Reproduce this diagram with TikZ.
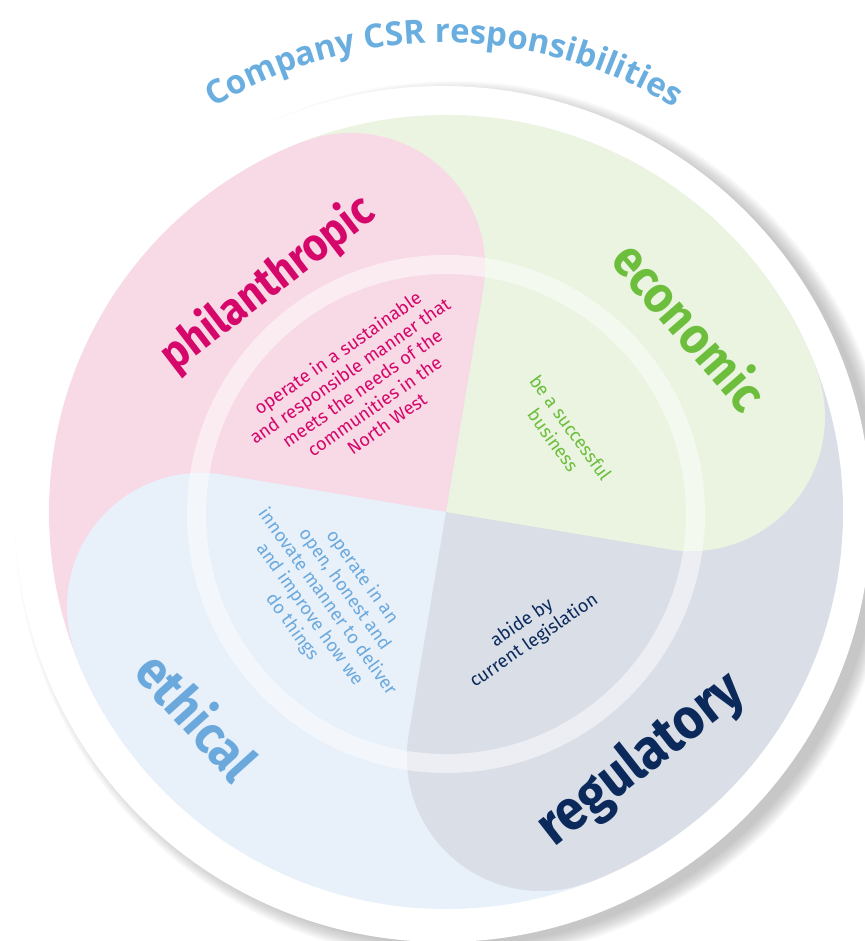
\documentclass[tikz,border=0pt]{standalone}
\usepackage{graphicx}
\usepackage{fontspec}
\setmainfont{Fira Sans}
\newfontfamily\titlefont{Open Sans}
\usetikzlibrary{decorations.text}
\definecolor{pinkfill}{HTML}{F8D9E6}
\definecolor{greenfill}{HTML}{EAF4E0}
\definecolor{regfill}{HTML}{D9DEE7}
\definecolor{ethfill}{HTML}{E8F0FA}
\definecolor{pinktext}{HTML}{D5076A}
\definecolor{greentext}{HTML}{6CBE3C}
\definecolor{regtext}{HTML}{0B2A5B}
\definecolor{ethtext}{HTML}{6BA9DD}
\definecolor{titleblue}{HTML}{6AAEE0}
\newcommand{\drawpetal}[2]{%
  \begin{scope}[rotate=#1]
    \fill[#2] (0,0) -- (226,0) arc[start angle=-90,end angle=30.7,radius=134]
      -- (30.7:470) arc[start angle=30.7,end angle=130,radius=470] -- cycle;
  \end{scope}}
\newcommand{\labeltext}[2]{\scalebox{1}[1.1]{\resizebox{#1}{!}{\bfseries #2}}}
\begin{document}
\begin{tikzpicture}[x=1pt,y=1pt,
  biglabel/.style={inner sep=0pt},
  innertext/.style={align=center,inner sep=0pt,font=\fontsize{18.2}{21.5}\selectfont}]
\useasboundingbox (-446,-429) rectangle (418,512);
% shadow
\foreach \k in {0,...,15} \fill[black,opacity=0.015] (9,-9) circle (440-\k);
% white disc
\fill[white] (-3,-2) circle (428);
% petals
\begin{scope}
  \clip (0,0) circle (397);
  \drawpetal{-9.5}{greenfill}
  \drawpetal{80.5}{pinkfill}
  \drawpetal{170.5}{ethfill}
  \drawpetal{-99.5}{regfill}
  \begin{scope}
    \clip (0,0) -- (-40:500) arc[start angle=-40,end angle=50,radius=500] -- cycle;
    \drawpetal{-9.5}{greenfill}
  \end{scope}
\end{scope}
% ring
\draw[white,opacity=0.5,line width=19] (0,-2) circle (249.5);
% title
\path[decorate,decoration={text along path,text align=center,text color=titleblue,
  text={|\titlefont\bfseries\fontsize{33}{38}\selectfont|Company CSR responsibilities}}]
  (-2,26) ++(160:443) arc[start angle=160,end angle=20,radius=443];
% big labels
\node[biglabel,rotate=37.5,text=pinktext] (phil) at (-178,228) {\labeltext{256pt}{philanthropic}};
\node[biglabel,rotate=-49,text=greentext] (econ) at (245,187) {\labeltext{203pt}{economic}};
\node[biglabel,rotate=-48,text=ethtext] (eth) at (-248,-203) {\labeltext{150pt}{ethical}};
\node[biglabel,rotate=38,text=regtext] (reg) at (196,-248) {\labeltext{245pt}{regulatory}};
% inner texts
\node[innertext,rotate=35,text=pinktext] (philin) at (-84,124) {operate in a sustainable\\and responsible manner that\\meets the needs of the\\communities in the\\North West};
\node[innertext,rotate=-54,text=greentext] (econin) at (116,78) {be a successful\\business};
\node[innertext,rotate=-54.5,text=ethtext] (ethin) at (-119,-90) {operate in an\\open, honest and\\innovate manner to deliver\\and improve how we\\do things};
\node[innertext,rotate=34.6,text=regtext] (regin) at (82,-120) {abide by\\current legislation};
\end{tikzpicture}
\end{document}
